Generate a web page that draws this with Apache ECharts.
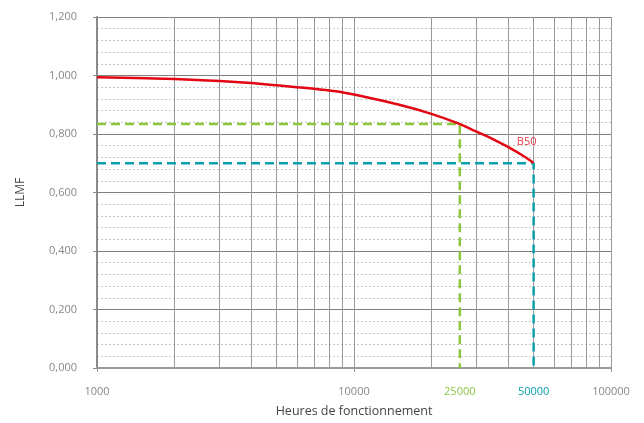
<!DOCTYPE html>
<html><head><meta charset="utf-8">
<script src="https://cdn.jsdelivr.net/npm/echarts@6/dist/echarts.min.js"></script>
<style>html,body{margin:0;padding:0;background:#fff}#c{width:644px;height:423px}</style>
</head><body><div id="c"></div>
<script>
// ---- data ----
const hours = [1000, 2000, 3000, 4000, 5000, 6000, 7000, 8000, 9000, 10000, 15000, 20000, 25800, 30000, 35000, 40000, 45000, 50000];
const llmf  = [0.994, 0.988, 0.981, 0.974, 0.9665, 0.960, 0.9545, 0.9485, 0.9425, 0.935, 0.900, 0.869, 0.834, 0.808, 0.781, 0.754, 0.728, 0.701];
const greenHours = 25800, greenValue = 0.834;
const blueHours = 50000, blueValue = 0.700;
const b50Label = 'B50';
const xLabelPositions = [1000, 10000, 25800, 50000, 100000];
const xLabelTexts = ['1000', '10000', '25000', '50000', '100000'];
const xGridValues = [1000,2000,3000,4000,5000,6000,7000,8000,9000,10000,20000,30000,40000,50000,60000,70000,80000,90000,100000];
const xDecades = [1000, 10000, 100000];
const xName = 'Heures de fonctionnement';
const yName = 'LLMF';

const lg = Math.log10;
const RED = '#e30613', GREEN = '#8dc63f', BLUE = '#0aa0ad';
const FONT = "'Open Sans', sans-serif";

function labelFor(v) {
  let best = 0;
  xLabelPositions.forEach((p, i) => { if (Math.abs(lg(p) - v) < Math.abs(lg(xLabelPositions[best]) - v)) best = i; });
  return best;
}

const chart = echarts.init(document.getElementById('c'), null, {renderer: 'canvas'});
chart.setOption({
  animation: false,
  backgroundColor: '#fff',
  textStyle: {fontFamily: FONT},
  grid: {left: 97, right: 33, top: 17, bottom: 54, containLabel: false},
  xAxis: [{
    type: 'value', min: lg(1000), max: lg(100000),
    position: 'bottom',
    name: xName, nameLocation: 'middle', nameGap: 37,
    nameTextStyle: {color: '#444', fontSize: 12.5, fontFamily: FONT},
    axisLine: {show: true, lineStyle: {color: '#999', width: 2}},
    axisTick: {show: false, customValues: xGridValues.map(lg)},
    axisLabel: {
      customValues: xLabelPositions.map(lg),
      margin: 18, fontSize: 11, color: '#888', fontFamily: FONT,
      formatter: v => {
        const i = labelFor(v);
        const t = xLabelTexts[i];
        if (xLabelPositions[i] === greenHours) return '{g|' + t + '}';
        if (xLabelPositions[i] === blueHours) return '{b|' + t + '}';
        return t;
      },
      rich: {
        g: {color: GREEN, fontSize: 11, fontFamily: FONT},
        b: {color: BLUE, fontSize: 11, fontFamily: FONT}
      }
    },
    splitLine: {show: true, lineStyle: {color: '#9a9a9a', width: 1}}
  }, {
    type: 'value', min: lg(1000), max: lg(100000), interval: 1,
    position: 'bottom', gridIndex: 0,
    axisLine: {show: false},
    axisTick: {show: true, length: 4, lineStyle: {color: '#999'}, customValues: xDecades.map(lg)},
    axisLabel: {show: false},
    splitLine: {show: false}
  }],
  yAxis: {
    type: 'value', min: 0, max: 1.2, interval: 0.2,
    name: yName, nameLocation: 'middle', nameGap: 70,
    nameTextStyle: {color: '#444', fontSize: 12, fontFamily: FONT},
    axisLine: {show: true, lineStyle: {color: '#8a8a8a', width: 2}},
    axisTick: {show: true, length: 4, lineStyle: {color: '#888'}},
    axisLabel: {
      margin: 20, fontSize: 11, color: '#888', fontFamily: FONT,
      formatter: v => v.toFixed(3).replace('.', ',')
    },
    splitLine: {show: true, lineStyle: {color: '#808080', width: 1}},
    minorTick: {show: false, splitNumber: 5},
    minorSplitLine: {show: true, lineStyle: {color: '#c6c6c6', width: 1, type: [2, 2]}}
  },
  series: [{
    type: 'line', name: 'green', z: 3,
    data: [[lg(1000), greenValue], [lg(greenHours), greenValue], [lg(greenHours), 0]],
    symbol: 'none',
    lineStyle: {color: GREEN, width: 2.5, type: [9, 5]}
  }, {
    type: 'line', name: 'blue', z: 3,
    data: [[lg(1000), blueValue], [lg(blueHours), blueValue], [lg(blueHours), 0]],
    symbol: 'none',
    lineStyle: {color: BLUE, width: 2.5, type: [9, 5]}
  }, {
    type: 'line', name: 'LLMF', z: 4,
    data: hours.map((h, i) => [lg(h), llmf[i]]),
    symbol: 'none', smooth: 0.5,
    lineStyle: {color: RED, width: 2.5},
    markPoint: {
      symbol: 'circle', symbolSize: 0,
      data: [{
        coord: [lg(hours[hours.length - 1]), llmf[llmf.length - 1]],
        label: {show: true, formatter: b50Label, offset: [-7, -21], color: '#e8394a', fontSize: 11, fontFamily: FONT}
      }]
    }
  }]
});
</script></body></html>
